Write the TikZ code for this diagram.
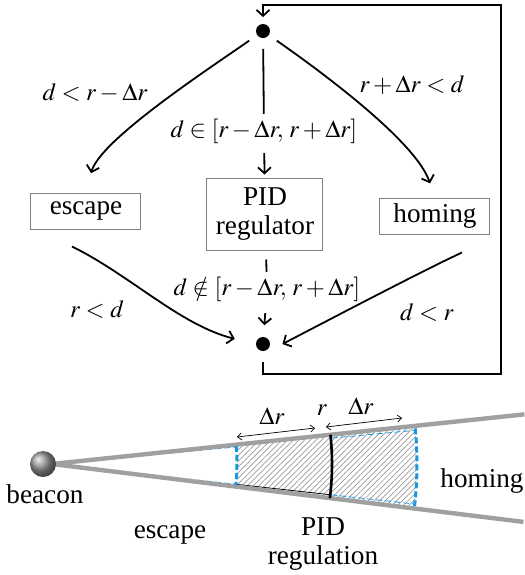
\documentclass[tikz,border=0pt]{standalone}
\usepackage{mathptmx}
\usepackage[no-math]{fontspec}
\setmainfont{Liberation Serif}
\newfontfamily\zonefont{Liberation Serif}
\usetikzlibrary{arrows.meta,patterns.meta,calc}

\definecolor{zoneblue}{RGB}{25,150,220}
\definecolor{raygray}{RGB}{160,160,160}

\begin{document}
\begin{tikzpicture}[x=0.5pt,y=-0.5pt,line width=0.9pt,
    flow/.style={-{Straight Barb[length=3pt,width=6.5pt]}},
    mode/.style={draw=gray,line width=0.5pt,minimum width=55pt,minimum height=18pt,inner sep=0pt,align=center,font=\zonefont\fontsize{13.6}{14.5}\selectfont},
    junction/.style={circle,fill=black,inner sep=0pt,minimum size=7pt},
    cond/.style={inner sep=0pt,font=\fontsize{12.3}{14}\selectfont},
    lbl/.style={align=center,font=\zonefont\fontsize{13.6}{14.5}\selectfont},
    ray/.style={raygray,line width=2.2pt},
    zoneline/.style={zoneblue,line width=1.5pt,dash pattern=on 3pt off 1.5pt},
    rim/.style={zoneblue,line width=0.4pt,dash pattern=on 3pt off 1.5pt},
    gauge/.style={line width=0.35pt,{Straight Barb[length=2pt,width=3.5pt]}-{Straight Barb[length=2pt,width=3.5pt]}},
    beaconball/.style={circle,inner sep=0pt,minimum size=13pt,ball color=gray!80}]
  \useasboundingbox (0,0) rectangle (525,575);

  % Switching logic
  \node[junction] (fork) at (263,31) {};
  \node[junction] (merge) at (263,344) {};
  \node[mode] (escape) at (86,211) {escape};
  \node[mode,minimum width=58pt,minimum height=36pt] (pid) at (265,214) {PID\\regulator};
  \node[mode] (homing) at (435,216) {homing};

  % Conditions
  \node[cond] (lowband) at (95,93) {$d<r-\Delta r$};
  \node[cond] (highband) at (412,85) {$r+\Delta r<d$};
  \node[cond] (inband) at (264,131) {$d\in[r-\Delta r,\,r+\Delta r]$};
  \node[cond] (outband) at (267,289) {$d\notin[r-\Delta r,\,r+\Delta r]$};
  \node[cond] (inner) at (97,310) {$r<d$};
  \node[cond] (outer) at (427,313) {$d<r$};

  % Transitions
  \draw[flow,shorten <=4.5pt,shorten >=10pt] (fork) .. controls (210,68) and (100,140) .. (escape.north);
  \draw[flow,shorten <=4.5pt,shorten >=7.5pt] (fork) .. controls (316,68) and (415,140) .. (homing.north);
  \draw[shorten <=5pt,shorten >=2pt] (fork) -- (inband);
  \draw[flow,shorten <=4.5pt,shorten >=1.5pt] (inband) -- (pid);
  \draw[shorten <=4.5pt,shorten >=2pt] (pid) -- (outband);
  \draw[flow,shorten <=5.5pt,shorten >=5.5pt] (outband) -- (merge);
  \draw[flow,shorten >=10.5pt] ([xshift=-7pt,yshift=-8.5pt]escape.south) .. controls (130,275) and (180,325) .. (merge.west);
  \draw[flow,shorten >=6.5pt] ([xshift=13.5pt,yshift=-9pt]homing.south) .. controls (420,272) and (325,322) .. ([yshift=-3pt]merge.east);

  % Feedback loop
  \coordinate (cornerbr) at (501,374);
  \coordinate (cornertr) at (501,5);
  \draw[flow,shorten <=5pt,shorten >=3pt] (merge) |- (cornerbr) -- (cornertr) -| (fork);

  % Zones around the beacon
  \coordinate (apex) at (52,464);
  \fill[pattern={Lines[angle=45,distance=2pt,line width=0.35pt]},pattern color=gray!80]
    plot[domain=-6:7,samples=20] ({52+185*cos(\x)},{464+185*sin(\x)})
    -- plot[domain=7:-6,samples=20] ({52+365*cos(\x)},{464+365*sin(\x)}) -- cycle;
  \draw[rim] ($(apex)+(-5.3:20)$) -- ($(apex)+(-5.3:184)$);
  \draw[rim] ($(apex)+(6.3:20)$) -- ($(apex)+(6.3:184)$);
  \draw[rim] ($(apex)+(-5.3:281)$) -- ($(apex)+(-5.3:364)$);
  \draw[rim] ($(apex)+(6.3:281)$) -- ($(apex)+(6.3:364)$);
  \draw[line width=0.4pt] ($(apex)+(6.3:185)$) -- ($(apex)+(6.3:280)$);
  \draw[ray] (apex) -- ++(-6:475);
  \draw[ray] (apex) -- ++(7:475);
  \draw[line width=1.3pt] plot[domain=-6:7,samples=20] ({52+280*cos(\x)},{464+280*sin(\x)});
  \draw[zoneline] plot[domain=-5.6:6.6,samples=20] ({52+185*cos(\x)},{464+185*sin(\x)});
  \draw[zoneline] plot[domain=-5.6:6.6,samples=20] ({52+365*cos(\x)},{464+365*sin(\x)});
  \node[beaconball] (beacon) at (43,464) {};

  % Distances
  \coordinate (g1) at (237,437);
  \coordinate (g2) at (315,428);
  \coordinate (g3) at (326,427);
  \coordinate (g4) at (402,418);
  \draw[gauge] (g1) -- (g2);
  \draw[gauge] (g3) -- (g4);
  \node[cond] (dlow) at (272,416) {$\Delta r$};
  \node[cond] (rmid) at (322,410) {$r$};
  \node[cond] (dhigh) at (361,406) {$\Delta r$};

  % Zone names
  \node[lbl] (beaconlbl) at (45,494) {beacon};
  \node[lbl] (hominglbl) at (482,481) {homing};
  \node[lbl] (escapelbl) at (170,535) {escape};
  \node[lbl] (pidlbl) at (323,544) {PID\\regulation};
\end{tikzpicture}
\end{document}
